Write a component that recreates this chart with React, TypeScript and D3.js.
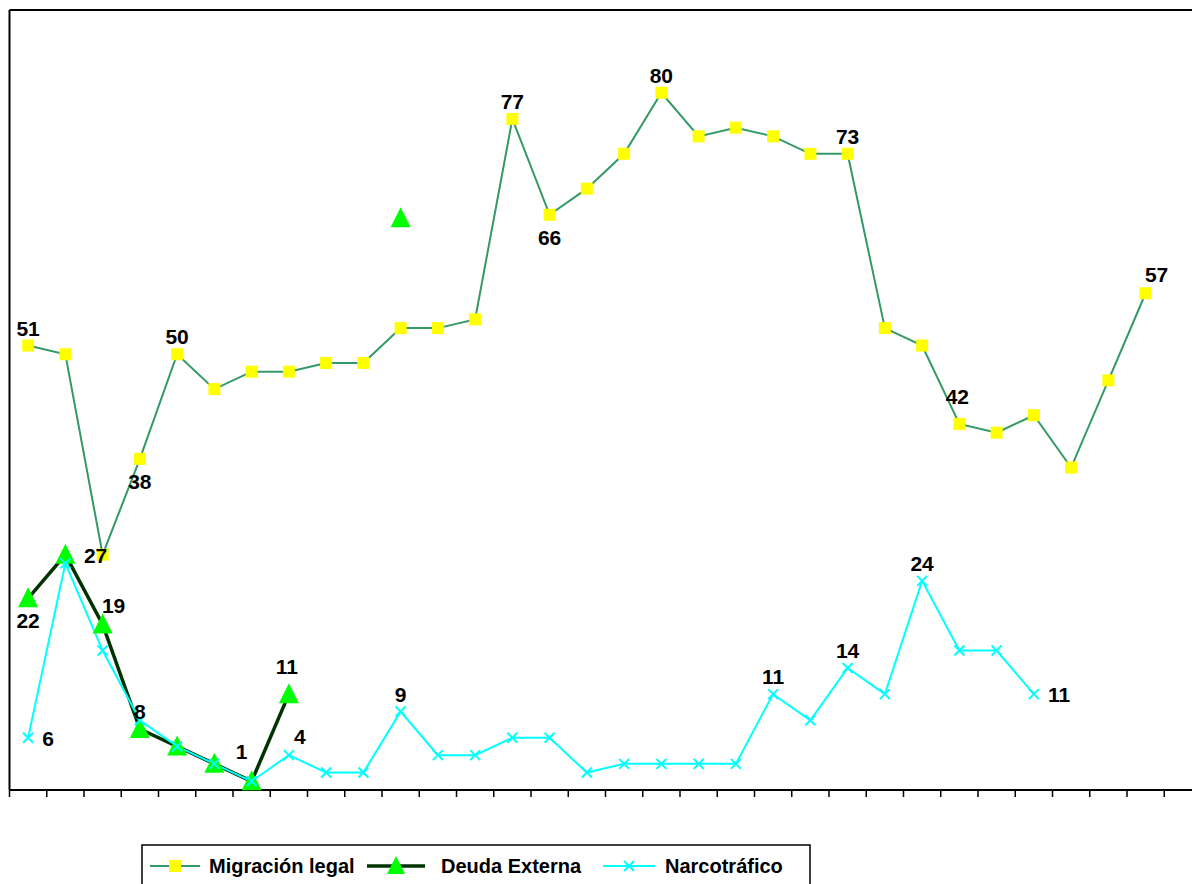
import React from 'react';
import * as d3 from 'd3';

// one slot per period; the last slot is empty (chart is cut on the right)
const periods = d3.range(32);

const migracion: (number | null)[] = [
  51, 50, 27, 38, 50, 46, 48, 48, 49, 49, 53, 53, 54, 77, 66, 69,
  73, 80, 75, 76, 75, 73, 73, 53, 51, 42, 41, 43, 37, 47, 57, null,
];

const deuda: (number | null)[] = [
  22, 27, 19, 7, 5, 3, 1, 11, null, null, 65.6, null, null, null, null, null,
  null, null, null, null, null, null, null, null, null, null, null, null, null, null, null, null,
];

const narco: (number | null)[] = [
  6, 26, 16, 8, 5, 3, 1, 4, 2, 2, 9, 4, 4, 6, 6, 2,
  3, 3, 3, 3, 11, 8, 14, 11, 24, 16, 16, 11, null, null, null, null,
];

// data labels: series, index, shown text, where it sits
const labels: { s: string; i: number; t: string; p: string }[] = [
  { s: 'mig', i: 0, t: '51', p: 'above' },
  { s: 'mig', i: 2, t: '27', p: 'left' },
  { s: 'mig', i: 3, t: '38', p: 'below' },
  { s: 'mig', i: 4, t: '50', p: 'above' },
  { s: 'mig', i: 13, t: '77', p: 'above' },
  { s: 'mig', i: 14, t: '66', p: 'below' },
  { s: 'mig', i: 17, t: '80', p: 'above' },
  { s: 'mig', i: 22, t: '73', p: 'above' },
  { s: 'mig', i: 25, t: '42', p: 'high' },
  { s: 'mig', i: 30, t: '57', p: 'aboveRight' },
  { s: 'deu', i: 0, t: '22', p: 'below' },
  { s: 'deu', i: 2, t: '19', p: 'aboveRight' },
  { s: 'deu', i: 3, t: '8', p: 'above' },
  { s: 'deu', i: 6, t: '1', p: 'aboveLeft' },
  { s: 'deu', i: 7, t: '11', p: 'high' },
  { s: 'nar', i: 0, t: '6', p: 'right' },
  { s: 'nar', i: 7, t: '4', p: 'aboveRight' },
  { s: 'nar', i: 10, t: '9', p: 'above' },
  { s: 'nar', i: 20, t: '11', p: 'above' },
  { s: 'nar', i: 22, t: '14', p: 'above' },
  { s: 'nar', i: 24, t: '24', p: 'above' },
  { s: 'nar', i: 27, t: '11', p: 'right' },
];

const W = 1192;
const H = 884;
const left = 9.5;
const top = 10;
const bottom = 790;
const step = 37.25;
const font = '"Liberation Sans", Arial, sans-serif';

const x = d3.scaleBand<number>().domain(periods).range([left, left + step * periods.length]);
const y = d3.scaleLinear().domain([0, 89.5]).range([bottom, top]);
const cx = (i: number) => x(i)! + x.bandwidth() / 2;

const line = d3.line<number | null>()
  .defined(d => d != null)
  .x((_, i) => cx(i))
  .y(d => y(d as number));

const seriesMap: Record<string, (number | null)[]> = { mig: migracion, deu: deuda, nar: narco };

const Square = ({ px, py, s = 12 }: { px: number; py: number; s?: number }) => (
  <rect x={px - s / 2} y={py - s / 2} width={s} height={s} fill="#FFFF00" />
);
const Tri = ({ px, py, s = 20 }: { px: number; py: number; s?: number }) => (
  <path d={`M${px},${py - s * 0.55}L${px + s / 2},${py + s * 0.45}L${px - s / 2},${py + s * 0.45}Z`} fill="#00FF00" />
);
const Cross = ({ px, py, s = 5 }: { px: number; py: number; s?: number }) => (
  <path d={`M${px - s},${py - s}L${px + s},${py + s}M${px - s},${py + s}L${px + s},${py - s}`} stroke="#00FFFF" strokeWidth={2} />
);

function labelPos(px: number, py: number, p: string): [number, number, string] {
  switch (p) {
    case 'above': return [px, py - 10, 'middle'];
    case 'high': return [px - 2, py - 20, 'middle'];
    case 'below': return [px, py + 30, 'middle'];
    case 'left': return [px - 7, py + 8, 'middle'];
    case 'right': return [px + 14, py + 8, 'start'];
    case 'aboveRight': return [px + 11, py - 11, 'middle'];
    case 'aboveLeft': return [px - 10, py - 22, 'middle'];
    default: return [px, py, 'middle'];
  }
}

export default function App() {
  const ticks = d3.range(periods.length + 1).map(i => left + i * step);
  return (
    <svg width={W} height={H} style={{ position: 'absolute', left: 0, top: 0, background: '#fff' }}>
      {/* plot frame: top and left borders, x axis */}
      <line x1={left} y1={top} x2={W} y2={top} stroke="#000" strokeWidth={2} />
      <line x1={left} y1={top} x2={left} y2={bottom} stroke="#000" strokeWidth={2} />
      <line x1={left} y1={bottom} x2={W} y2={bottom} stroke="#000" strokeWidth={2} />
      {ticks.map((t, i) => (
        <line key={i} x1={t} y1={bottom} x2={t} y2={bottom + 7} stroke="#000" strokeWidth={1.5} />
      ))}

      <path d={line(migracion) || ''} fill="none" stroke="#339966" strokeWidth={2} />
      <path d={line(deuda) || ''} fill="none" stroke="#003300" strokeWidth={3.5} />
      <path d={line(narco) || ''} fill="none" stroke="#00FFFF" strokeWidth={2} />

      {migracion.map((v, i) => v != null && <Square key={'m' + i} px={cx(i)} py={y(v)} />)}
      {deuda.map((v, i) => v != null && <Tri key={'d' + i} px={cx(i)} py={y(v)} />)}
      {narco.map((v, i) => v != null && <Cross key={'n' + i} px={cx(i)} py={y(v)} />)}

      {labels.map((l, k) => {
        const v = seriesMap[l.s][l.i] as number;
        const [lx, ly, anchor] = labelPos(cx(l.i), y(v), l.p);
        return (
          <text key={k} x={lx} y={ly} textAnchor={anchor} fontFamily={font} fontWeight="bold" fontSize={21} fill="#000">
            {l.t}
          </text>
        );
      })}

      {/* legend */}
      <g>
        <rect x={142} y={845} width={668} height={44} fill="#fff" stroke="#000" strokeWidth={1.5} />
        <line x1={150} y1={866} x2={200} y2={866} stroke="#339966" strokeWidth={2} />
        <Square px={175} py={866} s={12} />
        <text x={209} y={873} fontFamily={font} fontWeight="bold" fontSize={20}>Migración legal</text>
        <line x1={367} y1={866} x2={425} y2={866} stroke="#003300" strokeWidth={3.5} />
        <Tri px={396} py={866} s={18} />
        <text x={441} y={873} fontFamily={font} fontWeight="bold" fontSize={20}>Deuda Externa</text>
        <line x1={603} y1={866} x2={655} y2={866} stroke="#00FFFF" strokeWidth={2} />
        <Cross px={629} py={866} s={5} />
        <text x={665} y={873} fontFamily={font} fontWeight="bold" fontSize={20}>Narcotráfico</text>
      </g>
    </svg>
  );
}
